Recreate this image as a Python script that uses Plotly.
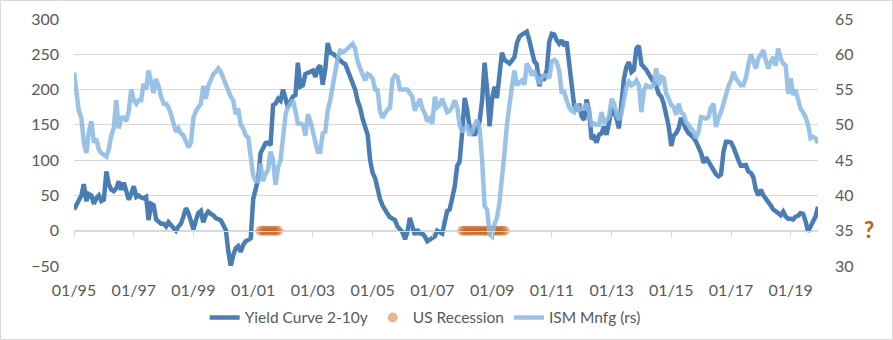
import plotly.graph_objects as go
import pandas as pd

# ---------------- data ----------------
start_month = "1995-01-01"
n_months = 300  # Jan 1995 .. Dec 2019

yield_curve_2_10 = [
    30, 36, 41, 50, 66, 42, 52, 50, 38, 46,
    50, 42, 44, 84, 66, 58, 56, 60, 70, 58,
    68, 56, 44, 52, 63, 48, 50, 47, 46, 48,
    15, 38, 36, 16, 13, 10, 10, 6, 12, 8,
    6, 0, 6, 10, 20, 32, 25, 12, 2, 15,
    25, 28, 12, 22, 27, 24, 22, 18, 16, 15,
    8, 1, -28, -50, -35, -25, -22, -30, -20, -15,
    -13, -11, 45, 57, 72, 110, 117, 124, 125, 121,
    178, 180, 187, 184, 200, 184, 175, 183, 190, 192,
    238, 204, 206, 222, 224, 226, 227, 218, 230, 234,
    207, 228, 266, 252, 251, 248, 244, 240, 238, 236,
    228, 220, 212, 200, 184, 174, 158, 145, 136, 100,
    82, 74, 58, 45, 36, 28, 24, 19, 16, 15,
    6, 2, -2, -12, -2, 18, 6, -6, 2, -4,
    -4, -8, -15, -13, -10, -8, 0, -2, -4, 12,
    28, 30, 45, 62, 92, 98, 140, 188, 172, 146,
    142, 135, 144, 155, 185, 238, 200, 148, 188, 204,
    188, 222, 252, 242, 239, 237, 241, 246, 266, 275,
    278, 280, 282, 270, 258, 240, 236, 205, 218, 216,
    228, 268, 279, 278, 270, 265, 270, 262, 268, 240,
    200, 178, 170, 180, 162, 157, 186, 170, 130, 133,
    125, 136, 138, 148, 136, 155, 171, 168, 160, 145,
    184, 215, 232, 239, 225, 228, 258, 262, 236, 232,
    228, 222, 217, 211, 205, 194, 190, 180, 166, 148,
    120, 135, 138, 145, 160, 150, 144, 138, 135, 132,
    126, 118, 110, 96, 104, 98, 92, 86, 80, 77,
    80, 112, 126, 126, 125, 118, 108, 100, 92, 93,
    93, 84, 82, 76, 58, 50, 58, 50, 46, 42,
    36, 30, 28, 25, 22, 27, 20, 17, 17, 16,
    20, 21, 25, 24, 14, -1, 6, 14, 20, 34,
]

ism_mnfg = [
    57.4, 55, 52, 51, 47.5, 46, 49, 50.5, 47.5, 48,
    46.5, 46, 45.8, 45.5, 46.5, 48.5, 49.5, 53.5, 49.5, 51,
    51, 50.5, 52, 55, 53.5, 53, 53.5, 53.5, 55.8, 55,
    57.7, 56, 54.5, 56.5, 55.5, 54, 53, 53, 52.5, 51.5,
    50, 49, 49.5, 48.8, 48.5, 47.5, 46.8, 47.5, 51, 52,
    52.5, 53, 55.5, 53.7, 55.5, 56.5, 57.2, 57.5, 58, 57.5,
    56.5, 55.5, 54.8, 54, 53.5, 51.5, 52.3, 50, 49.5, 48.5,
    48.2, 45, 42.8, 42, 42, 44.5, 42, 43.1, 43.6, 46.2,
    45, 41.5, 44, 45, 48.5, 51.5, 52.5, 53, 53.5, 52,
    50.2, 50.2, 50, 48.5, 51.5, 50.5, 49, 47.5, 46.2, 46.2,
    48.8, 49, 52, 53.5, 55.5, 57, 59.5, 60.5, 60.3, 60.5,
    60.8, 61.2, 61.5, 60.8, 59, 58, 57, 56.3, 57.2, 57,
    56.5, 55, 54.9, 52, 51, 51.5, 52.2, 52.4, 56.5, 57,
    56.8, 55, 55, 55, 55, 54.5, 54, 52, 52.8, 53.7,
    52.3, 51.6, 50.5, 50.9, 50.2, 54, 52.5, 52.8, 53.7, 52.5,
    51.8, 52, 52.5, 53.5, 52.5, 50, 49, 49.5, 50, 48.5,
    49, 50, 50.7, 49.5, 45, 38.5, 38, 34.5, 34.2, 36,
    36.8, 39, 42, 46, 50, 53.5, 55.5, 57.7, 55.6, 56,
    56.3, 55.7, 58.7, 58, 57, 57.7, 56.6, 55.8, 56.8, 57,
    57, 56.6, 59, 59.2, 58.9, 57.7, 54.7, 54.7, 53.5, 52.5,
    52, 51.8, 53, 52.1, 52.3, 52.3, 53, 51.8, 50, 50.2,
    50, 50, 51.8, 50.2, 50.7, 51.1, 53.7, 53, 51.5, 50.7,
    51.6, 54, 55.4, 56.1, 55.6, 55.8, 56.3, 55.6, 51.8, 54.9,
    55.6, 55.4, 55.4, 55.6, 58, 55.6, 56.8, 56.6, 54.4, 53.7,
    52.8, 52.5, 51.4, 53, 51.8, 51.5, 50.4, 50, 49.5, 49,
    48.1, 49, 51.1, 51, 50.9, 51.1, 52.5, 53, 49.7, 51,
    51.8, 53, 54.4, 55.5, 56.3, 57.5, 56.6, 56, 55.6, 55.6,
    56.6, 58.5, 60, 59, 58, 59.4, 60, 60.6, 59.2, 58,
    58.9, 59.6, 58.4, 60.8, 59.4, 58.7, 58.4, 54.4, 56.6, 54.2,
    55, 53.5, 52.3, 51.8, 51.1, 50, 48.1, 48.3, 48.1, 47.4,
]

# US recession months (NBER, monthly flag)
recession_periods = [("2001-04-01", "2001-11-01"), ("2008-01-01", "2009-06-01")]
recession_level = 0

tick_years = list(range(1995, 2020, 2))
tick_values = [f"{y}-01-01" for y in tick_years]
tick_labels = [f"01/{y % 100:02d}" for y in tick_years]

# ---------------- build ----------------
dates = pd.date_range(start_month, periods=n_months, freq="MS")
rec_dates = []
for s, e in recession_periods:
    rec_dates.extend(pd.date_range(s, e, freq="MS"))
rec_values = [recession_level] * len(rec_dates)

FONT = "Lato, 'Open Sans', sans-serif"
GREY = "#595959"
GRID = "#d9d9d9"

fig = go.Figure()
fig.add_trace(go.Scatter(
    x=dates, y=yield_curve_2_10, name="Yield Curve 2-10y", mode="lines",
    line=dict(color="#4a7db3", width=4.5), yaxis="y",
))
fig.add_trace(go.Scatter(
    x=rec_dates, y=rec_values, name="US Recession", mode="markers",
    marker=dict(color="rgba(197,90,17,0.45)", size=10, line=dict(width=0)),
    yaxis="y",
))
fig.add_trace(go.Scatter(
    x=dates, y=ism_mnfg, name="ISM Mnfg (rs)", mode="lines",
    line=dict(color="rgba(140,185,226,0.88)", width=4.5), yaxis="y2",
))

fig.update_layout(
    width=893, height=340,
    margin=dict(l=74, r=75, t=19, b=74, autoexpand=False),
    paper_bgcolor="white", plot_bgcolor="white",
    font=dict(family=FONT, size=16, color=GREY),
    showlegend=True,
    legend=dict(orientation="h", x=0.472, xanchor="center", y=-0.21, yanchor="middle",
                font=dict(size=15.5, color=GREY), itemwidth=30, tracegroupgap=0,
                bgcolor="rgba(0,0,0,0)"),
    xaxis=dict(
        type="date", range=["1995-01-01", "2019-12-01"],
        tickvals=tick_values, ticktext=tick_labels,
        anchor="free", position=50 / 350,
        showline=True, linecolor=GRID, linewidth=1,
        ticks="outside", ticklen=5, tickcolor=GRID, tickwidth=1,
        ticklabelstandoff=40,
        showgrid=False, zeroline=False,
        tickfont=dict(size=16, color=GREY),
    ),
    yaxis=dict(
        range=[-50, 300], dtick=50, tick0=0,
        showgrid=True, gridcolor=GRID, gridwidth=1,
        zeroline=False, showline=False, ticks="",
        ticklabelstandoff=14,
        tickfont=dict(size=16, color=GREY),
    ),
    yaxis2=dict(
        range=[30, 65], dtick=5, tick0=30,
        overlaying="y", side="right", anchor="x",
        showgrid=False, zeroline=False, showline=False, ticks="",
        ticklabelstandoff=16,
        tickfont=dict(size=16, color=GREY),
    ),
    shapes=[dict(type="rect", xref="paper", yref="paper",
                 x0=-73.5 / 744, x1=818.5 / 744, y0=(266 - 339.5) / 247, y1=(266 - 0.5) / 247,
                 line=dict(color=GRID, width=1), fillcolor="rgba(0,0,0,0)", layer="below")],
    annotations=[dict(text="<b>?</b>", xref="paper", yref="paper",
                      x=(869 - 74) / 744, y=(266 - 229) / 247, showarrow=False,
                      font=dict(size=22, color="#c55a11", family=FONT),
                      xanchor="center", yanchor="middle")],
)

fig.write_html("out.html")
